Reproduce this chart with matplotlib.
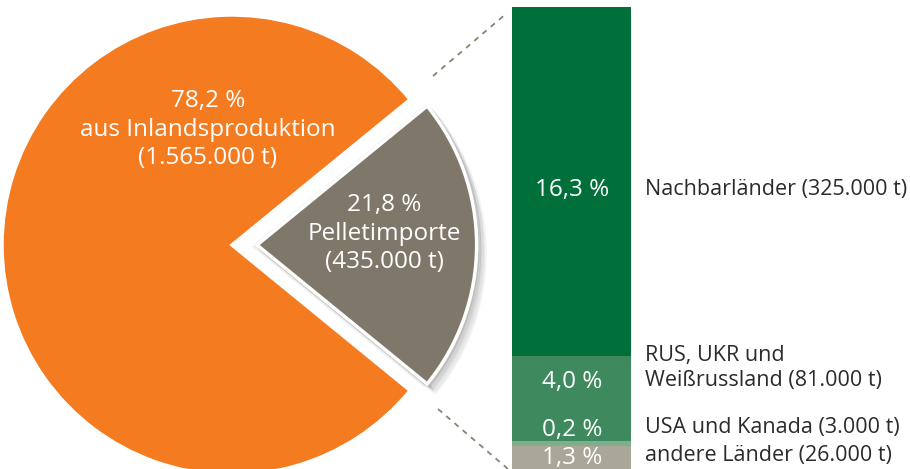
import matplotlib.pyplot as plt
from matplotlib.patches import Shadow

plt.rcParams['font.family'] = ['Open Sans', 'DejaVu Sans']

# Data
pie_labels = ['21,8 %\nPelletimporte\n(435.000 t)', '78,2 %\naus Inlandsproduktion\n(1.565.000 t)']
pie_values = [21.8, 78.2]
pie_colors = ['#7f776a', '#f47b20']

bar_values = [16.3, 4.0, 0.2, 1.3]
bar_texts = ['16,3 %', '4,0 %', '0,2 %', '1,3 %']
bar_colors = ['#006f3a', '#3e8a5e', '#7fae8c', '#aaa698']
bar_names = ['Nachbarländer (325.000 t)', 'RUS, UKR und\nWeißrussland (81.000 t)',
             'USA und Kanada (3.000 t)', 'andere Länder (26.000 t)']

W, H = 910, 469
fig = plt.figure(figsize=(W / 100, H / 100), dpi=100)
ax = fig.add_axes([0, 0, 1, 1])
ax.set_zorder(2)

# pie in pixel coordinates (y down); explode is in data units here
cx, cy, r = 232, 245, 230
wedges, _ = ax.pie(pie_values, colors=pie_colors, startangle=-pie_values[0] * 1.8,
                   explode=[25, 0], center=(cx, cy), radius=r, frame=True,
                   wedgeprops=dict(edgecolor='white', linewidth=2.5))
wedges[0].set_radius(r * 0.955)
# soft shadow around the import slice
for ox, oy, a in [(2, 2, 0.10), (4, 4, 0.08), (6, 6, 0.05), (-2, 1, 0.06)]:
    sh = Shadow(wedges[0], ox, oy, alpha=a)
    sh.set_zorder(wedges[0].get_zorder() - 0.5)
    ax.add_patch(sh)

ax.set_xlim(0, W)
ax.set_ylim(H, 0)
ax.set_aspect('auto')
ax.axis('off')

ax.text(208, 130, pie_labels[1], color='white', fontsize=17.5, ha='center', va='center',
        linespacing=1.25)
ax.text(384, 234, pie_labels[0], color='white', fontsize=17.5, ha='center', va='center',
        linespacing=1.25)

# connector lines
ax.plot([433, 507], [76, 13], ls=(0, (3, 3)), color='#8a8272', lw=1.3)
ax.plot([438, 508], [409, 469], ls=(0, (3, 3)), color='#8a8272', lw=1.3)

# stacked bar in its own axes (percent scale)
k = 21.4
total = sum(bar_values)
bx = fig.add_axes([512 / W, 1 - (7 + total * k) / H, 119 / W, total * k / H])
bx.set_zorder(1)
bottom = 0
for v, c in zip(bar_values, bar_colors):
    bx.bar(0, v, bottom=bottom, width=1, color=c, linewidth=0)
    bottom += v
bx.set_xlim(-0.5, 0.5)
bx.set_ylim(total, 0)
bx.axis('off')

text_y = [190, 382, 430, 458]
name_y = [190, 368, 428, 456]
for t, ty, n, ny in zip(bar_texts, text_y, bar_names, name_y):
    ax.text(572, ty, t, color='white', fontsize=17.5, ha='center', va='center')
    ax.text(645, ny, n, color='#2b2b2b', fontsize=15.5, ha='left', va='center',
            linespacing=1.2)

fig.savefig('out.png', dpi=100)
